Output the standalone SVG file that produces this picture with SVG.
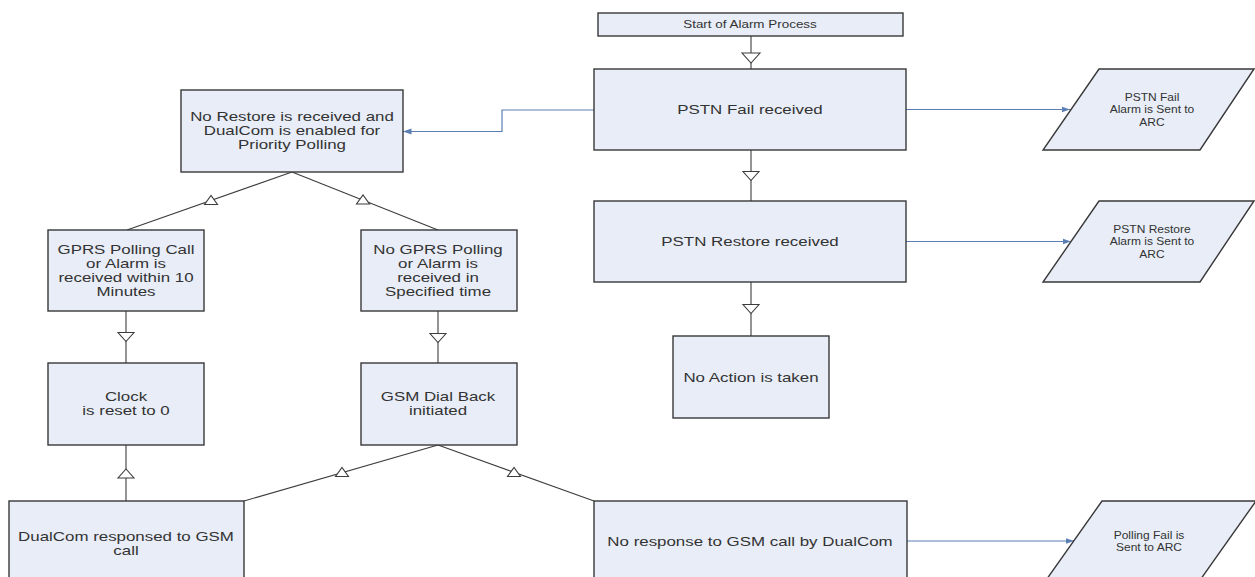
<svg xmlns="http://www.w3.org/2000/svg" width="1255" height="577" viewBox="0 0 1255 577">
<style>
.box{fill:#e8edf7;stroke:#383838;stroke-width:1.4}
.c{fill:none;stroke:#3c3c3c;stroke-width:1.1}
.b{fill:none;stroke:#5b7fb3;stroke-width:1.2}
.tri{fill:#ffffff;stroke:#3c3c3c;stroke-width:1.1}
text{font-family:"Liberation Sans",Arial,sans-serif;fill:#333333;text-anchor:middle}
.t{font-size:13px}
.s{font-size:10px}
.st{font-size:10.5px}
</style>
<defs>
<marker id="ba" markerWidth="9" markerHeight="7" refX="8.5" refY="3.5" orient="auto" markerUnits="userSpaceOnUse">
<path d="M0,0.5 L8.5,3.5 L0,6.5 Z" fill="#5b7fb3"/>
</marker>
<path id="tdL" class="tri" d="M-9,-5 L9,-5 L0,5 Z"/>
<path id="td" class="tri" d="M-8,-4.5 L8,-4.5 L0,4.5 Z"/>
<path id="tu" class="tri" d="M-8,4.5 L8,4.5 L0,-4.5 Z"/>
<path id="tus" class="tri" d="M-6.5,4.5 L6.5,4.5 L0,-4.5 Z"/>
</defs>
<rect width="1255" height="577" fill="#ffffff"/>

<g id="connectors">
<line class="c" x1="751" y1="36" x2="751" y2="69"/>
<line class="c" x1="751" y1="150" x2="751" y2="201"/>
<line class="c" x1="751" y1="282" x2="751" y2="336"/>
<line class="c" x1="292" y1="172" x2="127" y2="230"/>
<line class="c" x1="292" y1="172" x2="438" y2="230"/>
<line class="c" x1="126" y1="311" x2="126" y2="363"/>
<line class="c" x1="438" y1="311" x2="438" y2="363"/>
<line class="c" x1="126" y1="445" x2="126" y2="501"/>
<line class="c" x1="438" y1="445" x2="244" y2="501"/>
<line class="c" x1="438" y1="445" x2="594" y2="501"/>
<use href="#tdL" x="751" y="58"/>
<use href="#td" x="751" y="176"/>
<use href="#td" x="751" y="309"/>
<use href="#tus" x="211" y="200"/>
<use href="#tus" x="363" y="199.5"/>
<use href="#td" x="126" y="337"/>
<use href="#td" x="438" y="338"/>
<use href="#tu" x="126" y="473.5"/>
<use href="#tus" x="342" y="472"/>
<use href="#tus" x="514" y="472"/>
<path class="b" d="M594,110 H502 V131.5 H403" marker-end="url(#ba)"/>
<line class="b" x1="906" y1="109.5" x2="1070" y2="109.5" marker-end="url(#ba)"/>
<line class="b" x1="906" y1="241.5" x2="1071" y2="241.5" marker-end="url(#ba)"/>
<line class="b" x1="907" y1="541" x2="1074" y2="541" marker-end="url(#ba)"/>
</g>

<g id="start">
<rect class="box" x="598" y="13" width="305" height="23"/>
<text class="st" transform="translate(750,28.3) scale(1.28,1)">Start of Alarm Process</text>
</g>
<g id="pstn-fail">
<rect class="box" x="594" y="69" width="312" height="81"/>
<text class="t" transform="translate(750,114) scale(1.3,1)">PSTN Fail received</text>
</g>
<g id="pstn-restore">
<rect class="box" x="594" y="201" width="312" height="81"/>
<text class="t" transform="translate(750,246) scale(1.3,1)">PSTN Restore received</text>
</g>
<g id="no-action">
<rect class="box" x="673" y="336" width="156" height="82"/>
<text class="t" transform="translate(751,381.5) scale(1.3,1)">No Action is taken</text>
</g>
<g id="fail-arc">
<polygon class="box" points="1099,69 1254,69 1200,150 1043,150"/>
<text class="s" transform="translate(1152,0) scale(1.2,1)"><tspan x="0" y="100.6">PSTN Fail</tspan><tspan x="0" y="113.1">Alarm is Sent to</tspan><tspan x="0" y="125.6">ARC</tspan></text>
</g>
<g id="restore-arc">
<polygon class="box" points="1099,201 1254,201 1200,282 1043,282"/>
<text class="s" transform="translate(1152,0) scale(1.2,1)"><tspan x="0" y="232.6">PSTN Restore</tspan><tspan x="0" y="245.1">Alarm is Sent to</tspan><tspan x="0" y="257.6">ARC</tspan></text>
</g>
<g id="no-restore">
<rect class="box" x="181" y="90" width="222" height="82"/>
<text class="t" transform="translate(292,0) scale(1.3,1)"><tspan x="0" y="121.5">No Restore is received and</tspan><tspan x="0" y="135.5">DualCom is enabled for</tspan><tspan x="0" y="149.5">Priority Polling</tspan></text>
</g>
<g id="gprs-received">
<rect class="box" x="48" y="230" width="156" height="81"/>
<text class="t" transform="translate(126,0) scale(1.3,1)"><tspan x="0" y="254">GPRS Polling Call</tspan><tspan x="0" y="268">or Alarm is</tspan><tspan x="0" y="282">received within 10</tspan><tspan x="0" y="296">Minutes</tspan></text>
</g>
<g id="no-gprs">
<rect class="box" x="361" y="230" width="156" height="81"/>
<text class="t" transform="translate(438,0) scale(1.3,1)"><tspan x="0" y="254">No GPRS Polling</tspan><tspan x="0" y="268">or Alarm is</tspan><tspan x="0" y="282">received in</tspan><tspan x="0" y="296">Specified time</tspan></text>
</g>
<g id="clock">
<rect class="box" x="48" y="363" width="156" height="82"/>
<text class="t" transform="translate(126,0) scale(1.3,1)"><tspan x="0" y="401.5">Clock</tspan><tspan x="0" y="415.5">is reset to 0</tspan></text>
</g>
<g id="gsm-dial">
<rect class="box" x="361" y="363" width="156" height="82"/>
<text class="t" transform="translate(438,0) scale(1.3,1)"><tspan x="0" y="401.5">GSM Dial Back</tspan><tspan x="0" y="415.5">initiated</tspan></text>
</g>
<g id="dualcom-responded">
<rect class="box" x="9" y="501" width="235" height="100"/>
<text class="t" transform="translate(126,0) scale(1.3,1)"><tspan x="0" y="541">DualCom responsed to GSM</tspan><tspan x="0" y="555">call</tspan></text>
</g>
<g id="no-response">
<rect class="box" x="594" y="501" width="313" height="100"/>
<text class="t" transform="translate(750,545.5) scale(1.3,1)">No response to GSM call by DualCom</text>
</g>
<g id="polling-fail-arc">
<polygon class="box" points="1102,501 1256,501 1186,600 1032,600"/>
<text class="s" transform="translate(1149,0) scale(1.2,1)"><tspan x="0" y="538.6">Polling Fail is</tspan><tspan x="0" y="550.6">Sent to ARC</tspan></text>
</g>
</svg>
